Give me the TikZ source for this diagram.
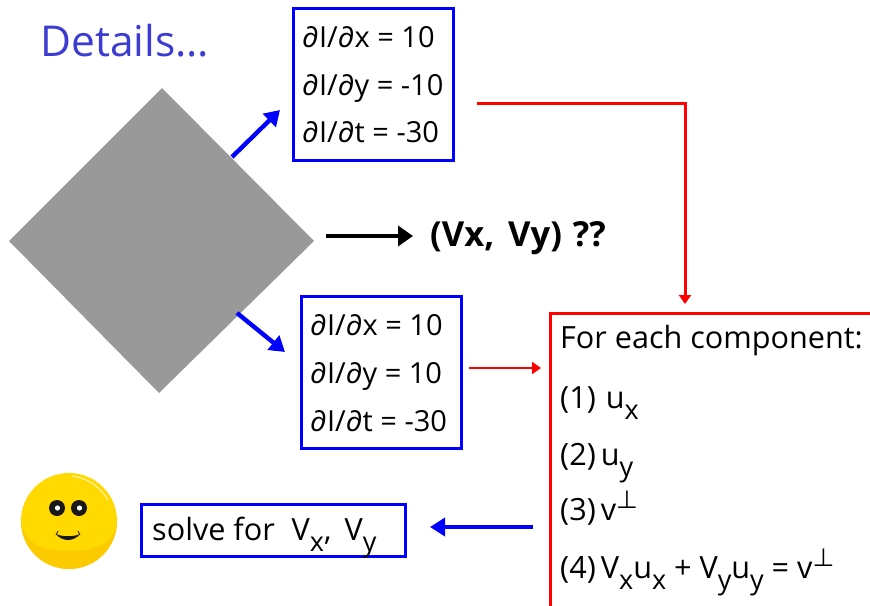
\documentclass[tikz,border=0pt]{standalone}
\usepackage{fontspec}
\setmainfont{Open Sans}
\newfontfamily\symfont{DejaVu Sans}
\usetikzlibrary{arrows.meta}
\definecolor{bluebox}{HTML}{0000FF}
\definecolor{redbox}{HTML}{FF0000}
\definecolor{titleblue}{HTML}{3C3CD2}
\definecolor{slab}{HTML}{999999}
\definecolor{gold}{HTML}{FFD900}
\definecolor{golddark}{HTML}{FBCB00}
\newcommand{\lowsub}[1]{\raisebox{-0.36em}{\fontsize{27}{27}\selectfont #1}}
\newcommand{\perpmark}{\raisebox{0.36em}{\fontsize{25}{25}\symfont ⊥}}
\tikzset{
  bluerect/.style={draw=bluebox,line width=3pt,inner sep=0pt,fill=white},
  redrect/.style={draw=redbox,line width=3.2pt,inner sep=0pt,fill=white},
  txt/.style={anchor=base west,inner sep=0pt,text=black,font=\fontsize{29}{30}\selectfont},
  biglabel/.style={txt,font=\fontsize{30.6}{32}\selectfont},
  bluearrow/.style={draw=bluebox,line width=4.4pt,-{Triangle[length=15pt,width=18pt]}},
  blackarrow/.style={draw=black,line width=4.6pt,-{Triangle[length=15pt,width=20pt]}},
  redarrow/.style={draw=redbox,line width=3pt,-{Triangle[length=9pt,width=12pt]}},
}
\begin{document}
\begin{tikzpicture}[x=1pt,y=-1pt]
\useasboundingbox (0,0) rectangle (870,605);
\clip (0,0) rectangle (870,605);
\fill[white] (0,0) rectangle (870,605);

% title
\node[anchor=base west,inner sep=0pt,text=titleblue,font=\fontsize{42.5}{46}\selectfont] (title) at (40,56) {Details…};

% slab
\coordinate (dW) at (9,241);
\coordinate (dN) at (162,88);
\coordinate (dE) at (314,241);
\coordinate (dS) at (159,393);
\fill[slab] (dW) -- (dN) -- (dE) -- (dS) -- cycle;

% boxes
\node[bluerect,minimum width=160pt,minimum height=152pt] (boxA) at (373,84) {};
\node[bluerect,minimum width=160pt,minimum height=152pt] (boxB) at (381,372) {};
\node[bluerect,minimum width=264pt,minimum height=52pt] (boxC) at (273,530) {};
\node[redrect,minimum width=360pt,minimum height=340pt,anchor=north west] (boxD) at (548.5,312) {};

% text of box A
\node[txt] (a1) at (302,47) {∂I/∂x = 10};
\node[txt] (a2) at (302,95) {∂I/∂y = -10};
\node[txt] (a3) at (302,142) {∂I/∂t = -30};
% text of box B
\node[txt] (b1) at (310,335) {∂I/∂x = 10};
\node[txt] (b2) at (310,383) {∂I/∂y = 10};
\node[txt] (b3) at (310,431) {∂I/∂t = -30};
% solve
\node[biglabel] (c1) at (152,540) {solve for\hspace{9pt} V\lowsub{x},\hspace{5pt} V\lowsub{y}};
% list
\node[biglabel] (d0) at (560,348) {For each component:};
\node[biglabel] (d1) at (560,408) {(1)\hspace{2pt} u\lowsub{x}};
\node[biglabel] (d2) at (560,465) {(2)\,u\lowsub{y}};
\node[biglabel] (d3) at (560,520) {(3)\,v\perpmark};
\node[biglabel] (d4) at (560,578) {(4)\,V\lowsub{x}u\lowsub{x} + V\lowsub{y}u\lowsub{y} = v\perpmark};

% question
\node[anchor=base west,inner sep=0pt,font=\fontsize{34.5}{36}\bfseries\selectfont] (q) at (430,246) {(Vx,\hspace{5pt} Vy)\hspace{2pt} ??};

% free ends
\coordinate (fromD1) at (232,157);
\coordinate (toA) at (280,110);
\coordinate (fromD2) at (237,313);
\coordinate (toB) at (285,352);
\coordinate (blkS) at (326,236);
\coordinate (blkE) at (413,236);
\coordinate (redS) at (477,103);
\coordinate (redC) at (685,103);
\coordinate (redE) at (685,304);
\coordinate (redBs) at (469,368);
\coordinate (redBe) at (541,368);
\coordinate (bluS) at (533,527);
\coordinate (bluE) at (430,527);

\draw[bluearrow] (fromD1) -- (toA);
\draw[bluearrow] (fromD2) -- (toB);
\draw[blackarrow] (blkS) -- (blkE);
\draw[redarrow] (redS) -- (redC) -- (redE);
\draw[redarrow,line width=2.4pt] (redBs) -- (redBe);
\draw[bluearrow,line width=3.6pt] (bluS) -- (bluE);

% smiley
\coordinate (sm) at (69,521);
\fill[gold] (sm) circle (48);
\begin{scope}
  \clip (sm) circle (48);
  \fill[golddark] (21,521) .. controls (24,548) and (50,551) .. (69,551) .. controls (90,551) and (114,548) .. (117,521) -- (117,569) -- (21,569) -- cycle;
\end{scope}
\draw[white,opacity=.7,line width=1pt] (72,476) .. controls (88,478) and (100,487) .. (108,500);
\fill[black!90] (57,508) circle (8);
\fill[black!90] (79,508) circle (8);
\fill[white] (57.5,508) circle (2.6);
\fill[white] (79.5,508) circle (2.6);
\fill[black!90] (56,534) .. controls (62,542) and (74,542) .. (80,534) .. controls (74,537) and (62,537) .. (56,534) -- cycle;
\draw[black!90,line width=.8pt] (58,531) -- (56,535) (78,531) -- (80,535);
\end{tikzpicture}
\end{document}
